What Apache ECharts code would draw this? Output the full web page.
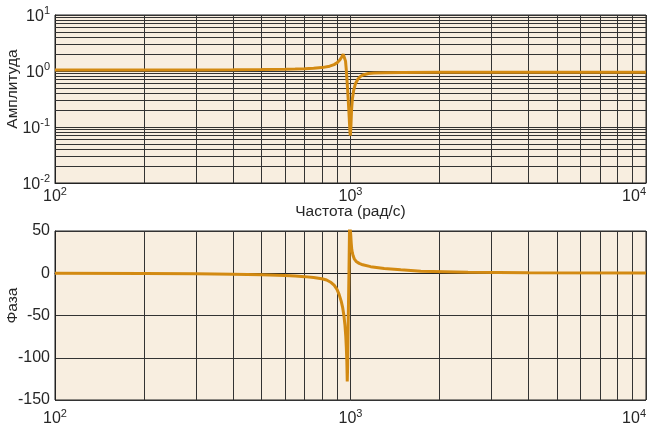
<!DOCTYPE html>
<html>
<head>
<meta charset="utf-8">
<script src="https://cdn.jsdelivr.net/npm/echarts@6/dist/echarts.min.js"></script>
<style>
html,body{margin:0;padding:0;background:#fff;}
#chart{width:647px;height:433px;}
</style>
</head>
<body>
<div id="chart"></div>
<script>
// ---- data ----
const magFreq = [100, 200, 300, 400, 500, 600, 650, 700, 750, 800, 850, 880, 900, 920, 935, 945, 952, 957, 962, 967, 972, 977, 982, 987, 992, 996, 999, 1003, 1008, 1015, 1025, 1040, 1060, 1080, 1100, 1150, 1200, 1300, 1500, 2000, 5000, 10000];
const magnitude = [1.04, 1.04, 1.045, 1.05, 1.06, 1.075, 1.085, 1.1, 1.12, 1.15, 1.22, 1.3, 1.4, 1.57, 1.8, 2.0, 2.1, 1.9, 1.5, 1.1, 0.75, 0.5, 0.32, 0.2, 0.12, 0.08, 0.07, 0.1, 0.2, 0.32, 0.45, 0.6, 0.72, 0.8, 0.85, 0.9, 0.92, 0.935, 0.945, 0.95, 0.95, 0.95];

const phaseFreq = [100, 200, 300, 400, 500, 600, 650, 700, 750, 800, 830, 860, 880, 900, 915, 930, 940, 950, 958, 964, 968, 972, 975, 978, 982, 988, 993, 998, 1002, 1006, 1010, 1015, 1020, 1030, 1045, 1070, 1100, 1170, 1300, 1480, 1730, 2500, 4000, 10000];
const phase = [0, -0.4, -0.7, -1.1, -1.7, -2.6, -3.2, -4, -5, -6.5, -8, -11, -14, -19, -25, -33, -40, -50, -62, -75, -88, -105, -128, -110, -60, 0, 60, 60, 45, 35, 28, 24, 21, 17, 14, 11.7, 10, 7.8, 5.5, 4, 2.5, 1.2, 0.6, 0.2];

const xTicks = [100, 1000, 10000];
const ampTicks = [0.01, 0.1, 1, 10];
const phaseTicks = [-150, -100, -50, 0, 50];
const xMinorGrid = [200, 300, 400, 500, 600, 700, 800, 900, 2000, 3000, 4000, 5000, 6000, 7000, 8000, 9000];
const ampMinorGrid = [0.02, 0.03, 0.04, 0.05, 0.06, 0.07, 0.08, 0.09, 0.2, 0.3, 0.4, 0.5, 0.6, 0.7, 0.8, 0.9, 2, 3, 4, 5, 6, 7, 8, 9];

const xLabel = 'Частота (рад/с)';
const ampLabel = 'Амплитуда';
const phaseLabel = 'Фаза';

// ---- styling ----
const BG = '#f8eee0';
const GRIDC = '#333333';
const LINEC = '#d38a12';
const TXT = '#262626';
const FONT = '"Liberation Sans", Arial, sans-serif';

const rich = {
  b: {fontSize: 16, fontFamily: FONT, color: TXT, lineHeight: 16, verticalAlign: 'bottom'},
  s: {fontSize: 11, fontFamily: FONT, color: TXT, verticalAlign: 'top', padding: [0, 0, 8, 0]}
};
function powLabel(v) {
  const e = Math.round(Math.log10(v));
  return '{b|10}{s|' + e + '}';
}

const gridLineStyle = {type: 'solid', color: GRIDC, width: 1};

function gridSeries(xi, yi, ys) {
  const data = xMinorGrid.map(v => ({xAxis: v}));
  (ys || []).forEach(v => data.push({yAxis: v}));
  return {
    type: 'line', xAxisIndex: xi, yAxisIndex: yi, data: [], z: 1, silent: true,
    markLine: {silent: true, symbol: ['none', 'none'], label: {show: false}, animation: false,
      lineStyle: gridLineStyle, emphasis: {disabled: true}, data: data}
  };
}

const option = {
  animation: false,
  backgroundColor: '#ffffff',
  textStyle: {fontFamily: FONT},
  grid: [
    {left: 55, right: 1, top: 15, height: 168, show: true, backgroundColor: BG, borderColor: '#222', borderWidth: 1, outerBoundsMode: 'none', containLabel: false},
    {left: 55, right: 1, top: 231, height: 169, show: true, backgroundColor: BG, borderColor: '#222', borderWidth: 1, outerBoundsMode: 'none', containLabel: false}
  ],
  xAxis: [
    {type: 'log', logBase: 10, gridIndex: 0, min: xTicks[0], max: xTicks[xTicks.length - 1],
     axisLine: {show: true, lineStyle: {color: '#222'}}, axisTick: {show: false},
     axisLabel: {formatter: powLabel, rich: rich, margin: 3, showMinLabel: true, showMaxLabel: true, alignMaxLabel: 'right'},
     splitLine: {show: true, lineStyle: gridLineStyle},
     name: xLabel, nameLocation: 'middle', nameGap: 21, nameMoveOverlap: false,
     nameTextStyle: {fontSize: 15.5, fontFamily: FONT, color: TXT}},
    {type: 'log', logBase: 10, gridIndex: 1, min: xTicks[0], max: xTicks[xTicks.length - 1],
     axisLine: {show: true, lineStyle: {color: '#222'}}, axisTick: {show: false},
     axisLabel: {formatter: powLabel, rich: rich, margin: 8, showMinLabel: true, showMaxLabel: true, alignMaxLabel: 'right'},
     splitLine: {show: true, lineStyle: gridLineStyle}}
  ],
  yAxis: [
    {type: 'log', logBase: 10, gridIndex: 0, min: ampTicks[0], max: ampTicks[ampTicks.length - 1],
     axisLine: {show: true, lineStyle: {color: '#222'}}, axisTick: {show: false},
     axisLabel: {formatter: powLabel, rich: rich, margin: 5, showMinLabel: true, showMaxLabel: true},
     splitLine: {show: true, lineStyle: gridLineStyle},
     name: ampLabel, nameLocation: 'middle', nameGap: 34, nameMoveOverlap: false,
     nameTextStyle: {fontSize: 15.5, fontFamily: FONT, color: TXT, padding: [0, 0, 0, 20]}},
    {type: 'value', gridIndex: 1, min: phaseTicks[0], max: phaseTicks[phaseTicks.length - 1], interval: 50,
     axisLine: {show: true, lineStyle: {color: '#222'}}, axisTick: {show: false},
     axisLabel: {fontSize: 16, fontFamily: FONT, color: TXT, margin: 5, showMinLabel: true, showMaxLabel: true},
     splitLine: {show: true, lineStyle: gridLineStyle},
     name: phaseLabel, nameLocation: 'middle', nameGap: 34, nameMoveOverlap: false,
     nameTextStyle: {fontSize: 15.5, fontFamily: FONT, color: TXT, padding: [0, 0, 0, 20]}}
  ],
  series: [
    gridSeries(0, 0, ampMinorGrid),
    gridSeries(1, 1, []),
    {type: 'line', xAxisIndex: 0, yAxisIndex: 0, z: 5, symbol: 'none', smooth: false, clip: true,
     lineStyle: {color: LINEC, width: 3}, data: magFreq.map((f, i) => [f, magnitude[i]])},
    {type: 'line', xAxisIndex: 1, yAxisIndex: 1, z: 5, symbol: 'none', smooth: false, clip: true,
     lineStyle: {color: LINEC, width: 3}, data: phaseFreq.map((f, i) => [f, phase[i]])}
  ]
};
const chart = echarts.init(document.getElementById('chart'), null, {renderer: 'canvas'});
chart.setOption(option);
</script>
</body>
</html>
